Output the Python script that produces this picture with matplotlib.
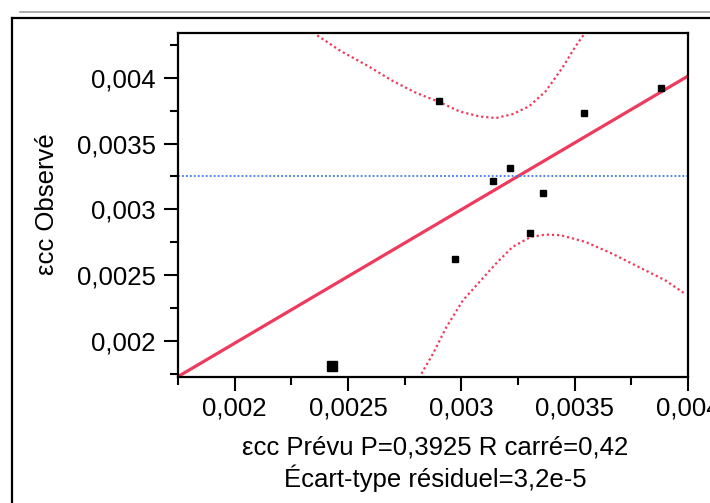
"""Actual by predicted plot (ecc)"""

import matplotlib.pyplot as plt
from matplotlib.lines import Line2D
from matplotlib.ticker import FuncFormatter, MultipleLocator

plt.rcParams["font.family"] = ["Liberation Sans", "DejaVu Sans"]

# Observed vs predicted points
pred = [0.002901, 0.003540, 0.003879, 0.003216, 0.003138, 0.003361, 0.003304, 0.002970]
obs = [0.003823, 0.003734, 0.003924, 0.003316, 0.003217, 0.003125, 0.002817, 0.002621]
# point sitting on the lower edge (drawn larger)
pred_big = [0.002430]
obs_big = [0.001808]

# Fit line (observed = predicted) and mean of observed
fit_x = [0.00175, 0.0040]
fit_y = [0.00173, 0.004013]
mean_obs = 0.003253

# Confidence curves
upper_x = [0.002364, 0.002466, 0.002583, 0.002700, 0.002802, 0.002904, 0.002992,
           0.003080, 0.003153, 0.003226, 0.003299, 0.003372, 0.003445, 0.003504, 0.003540]
upper_y = [0.004322, 0.004205, 0.004094, 0.003973, 0.003884, 0.003815, 0.003744,
           0.003706, 0.003694, 0.003724, 0.003783, 0.003897, 0.004074, 0.004239, 0.004327]
lower_x = [0.002824, 0.002875, 0.002934, 0.003007, 0.003080, 0.003153, 0.003226,
           0.003307, 0.003372, 0.003438, 0.003548, 0.003664, 0.003782, 0.003899, 0.003986]
lower_y = [0.001752, 0.001904, 0.002106, 0.002309, 0.002449, 0.002589, 0.002715,
           0.002791, 0.002809, 0.002804, 0.002753, 0.002665, 0.002563, 0.002462, 0.002360]

red = "#ef3a5d"
fs = 18.5

fig = plt.figure(figsize=(7.1, 5.03), dpi=100)
ax = fig.add_axes([0.2507, 0.2505, 0.7183, 0.6839])

ax.plot(fit_x, fit_y, color=red, lw=2.3, solid_capstyle="butt")
ax.plot(upper_x, upper_y, color=red, lw=1.6, ls=(0, (1, 1.3)))
ax.plot(lower_x, lower_y, color=red, lw=1.6, ls=(0, (1, 1.3)))
ax.axhline(mean_obs, color="#3a78e8", lw=1.3, ls=(0, (1, 1.2)))
ax.plot(pred, obs, "s", color="black", ms=3.8, ls="none")
ax.plot(pred_big, obs_big, "s", color="black", ms=6.5, ls="none", clip_on=False)

ax.set_xlim(0.00175, 0.0040)
ax.set_ylim(0.001727, 0.00434)

fmt = FuncFormatter(lambda v, p: f"{v:g}".replace(".", ","))
ax.xaxis.set_major_locator(MultipleLocator(0.0005))
ax.xaxis.set_minor_locator(MultipleLocator(0.00025))
ax.yaxis.set_major_locator(MultipleLocator(0.0005))
ax.yaxis.set_minor_locator(MultipleLocator(0.00025))
ax.xaxis.set_major_formatter(fmt)
ax.yaxis.set_major_formatter(fmt)
ax.tick_params(which="major", length=10, width=1.5, labelsize=fs, pad=4.3)
ax.tick_params(which="minor", length=5.5, width=1.5)
ax.tick_params(axis="y", which="major", pad=6)
for s in ax.spines.values():
    s.set_linewidth(1.6)

ax.set_ylabel("εcc Observé", fontsize=fs)
ax.yaxis.set_label_coords(-0.234, 0.503)

fig.text(0.613, 1 - 455 / 503, "εcc Prévu P=0,3925 R carré=0,42", fontsize=fs,
         ha="center", va="baseline")
fig.text(0.613, 1 - 487 / 503, "Écart-type résiduel=3,2e-5", fontsize=fs,
         ha="center", va="baseline")

# outer report frame
fig.add_artist(Line2D([12 / 710, 12 / 710], [0, 1 - 18 / 503], color="black", lw=1.6))
fig.add_artist(Line2D([12 / 710, 1], [1 - 18 / 503, 1 - 18 / 503], color="black", lw=1.6))
fig.add_artist(Line2D([20 / 710, 1], [1 - 12 / 503, 1 - 12 / 503], color="#a0a0a0", lw=1.2))

fig.savefig("out.png", dpi=100)
